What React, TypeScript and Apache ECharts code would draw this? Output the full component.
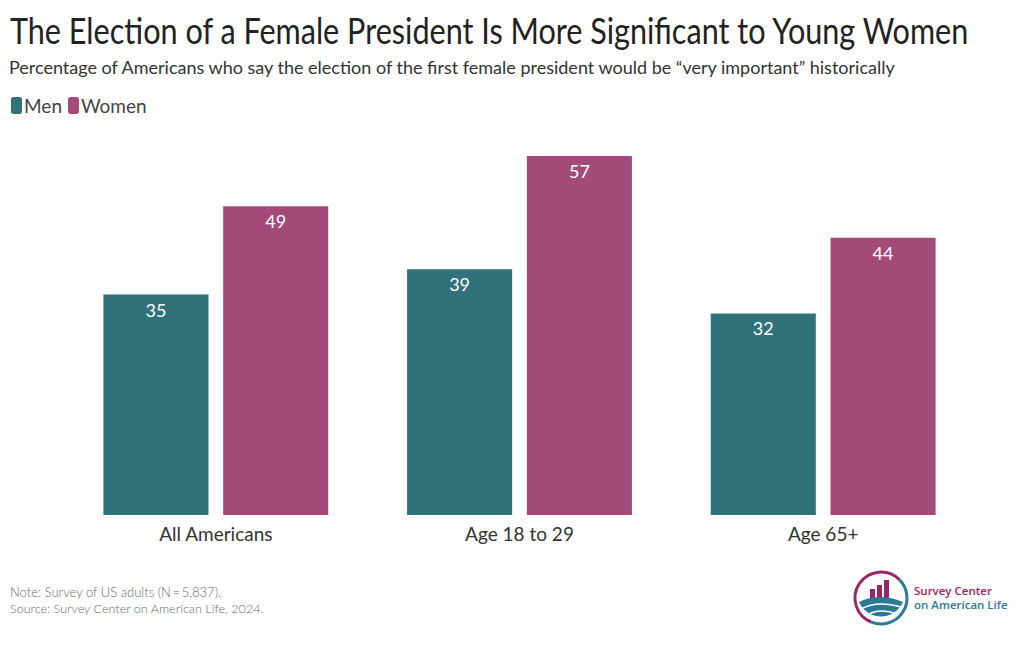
import React, { useEffect, useRef } from "react";
import * as echarts from "echarts";

const categories = ["All Americans", "Age 18 to 29", "Age 65+"];
const menValues = [35, 39, 32];
const womenValues = [49, 57, 44];
const seriesNames = ["Men", "Women"];

const MEN_COLOR = "#30727a";
const WOMEN_COLOR = "#a34a78";
const LOGO_TEAL = "#2a7a95";
const LOGO_MAG = "#9b2466";
const FONT = "Lato";

echarts.graphic.registerShape(
  "logoHill",
  echarts.graphic.extendPath("M -22 2 Q -2 -8 22 2 A 24 24 0 0 1 -22 2 Z", {}) as any
);

export default function App() {
  const ref = useRef<HTMLDivElement>(null);
  useEffect(() => {
    document.body.style.margin = "0";
    const chart = echarts.init(ref.current!, null, { renderer: "svg" });
    chart.setOption({
      animation: false,
      backgroundColor: "#ffffff",
      title: [
        {
          text: "Percentage of Americans who say the election of the first female president would be \u201cvery important\u201d historically",
          left: 4,
          top: 53,
          textStyle: { fontFamily: FONT, fontSize: 18, fontWeight: "normal", color: "#333333" },
        },
      ],
      legend: {
        left: 6,
        top: 91,
        itemWidth: 11,
        itemHeight: 17,
        itemGap: 6,
        icon: "roundRect",
        textStyle: { fontFamily: FONT, fontSize: 19, color: "#444444", padding: [0, 0, 0, -3] },
        data: seriesNames,
      },
      grid: { left: 64, right: 45, top: 137, bottom: 135 },
      xAxis: {
        type: "category",
        data: categories,
        axisLine: { show: false },
        axisTick: { show: false },
        axisLabel: { fontFamily: FONT, fontSize: 19, color: "#333333", margin: 9 },
      },
      yAxis: {
        type: "value",
        min: 0,
        max: 60,
        show: false,
        splitLine: { show: false },
      },
      series: [
        {
          name: seriesNames[0],
          type: "bar",
          data: menValues,
          barWidth: "34.6%",
          barGap: "14%",
          itemStyle: { color: MEN_COLOR },
          label: {
            show: true,
            position: "insideTop",
            distance: 6,
            color: "#ffffff",
            fontFamily: FONT,
            fontSize: 18,
          },
        },
        {
          name: seriesNames[1],
          type: "bar",
          data: womenValues,
          barWidth: "34.6%",
          itemStyle: { color: WOMEN_COLOR },
          label: {
            show: true,
            position: "insideTop",
            distance: 6,
            color: "#ffffff",
            fontFamily: FONT,
            fontSize: 18,
          },
        },
      ],
      graphic: [
        {
          type: "text",
          x: 10,
          y: 30,
          scaleX: 0.85,
          style: {
            text: "The Election of a Female President Is More Significant to Young Women",
            fontFamily: FONT,
            fontSize: 36,
            fontWeight: "normal",
            fill: "#222222",
            verticalAlign: "middle",
          },
        },
        {
          type: "text",
          left: 10,
          top: 585,
          style: {
            text: "Note: Survey of US adults (N\u2009=\u20095,837).",
            fontFamily: FONT,
            fontSize: 13,
            fontWeight: 300,
            fill: "#6a6a6a",
          },
        },
        {
          type: "text",
          left: 10,
          top: 602,
          style: {
            text: "Source: Survey Center on American Life, 2024.",
            fontFamily: FONT,
            fontSize: 12.6,
            fontWeight: 300,
            fill: "#6a6a6a",
          },
        },
        {
          type: "group",
          x: 881,
          y: 598,
          children: [
            { type: "arc", shape: { cx: 0, cy: 0, r: 26, startAngle: Math.PI * 0.62, endAngle: Math.PI * 1.75 }, style: { stroke: LOGO_MAG, lineWidth: 3, fill: "none" } },
            { type: "arc", shape: { cx: 0, cy: 0, r: 26, startAngle: Math.PI * 1.75, endAngle: Math.PI * 2.62 }, style: { stroke: LOGO_TEAL, lineWidth: 3, fill: "none" } },
            { type: "rect", shape: { x: -11, y: -9, width: 5, height: 9 }, style: { fill: LOGO_MAG } },
            { type: "rect", shape: { x: -4, y: -13, width: 5, height: 13 }, style: { fill: LOGO_MAG } },
            { type: "rect", shape: { x: 3, y: -18, width: 5, height: 18 }, style: { fill: LOGO_MAG } },
            { type: "logoHill", x: 0, y: 2, style: { fill: LOGO_TEAL } },
            { type: "bezierCurve", shape: { x1: -20, y1: 11, x2: 20, y2: 9, cpx1: -4, cpy1: 2 }, style: { stroke: "#ffffff", lineWidth: 1.5, fill: "none" } },
            { type: "bezierCurve", shape: { x1: -16, y1: 18, x2: 16, y2: 16, cpx1: -2, cpy1: 9 }, style: { stroke: "#ffffff", lineWidth: 1.5, fill: "none" } },
            { type: "text", x: 33, y: -14, style: { text: "Survey Center", fontFamily: "Open Sans", fontSize: 11.5, fontWeight: 600, fill: LOGO_MAG } },
            { type: "text", x: 33, y: 0, style: { text: "on American Life", fontFamily: "Open Sans", fontSize: 11.5, fontWeight: 600, fill: LOGO_TEAL } },
          ],
        },
      ],
    });
    return () => chart.dispose();
  }, []);
  return <div ref={ref} style={{ width: 1020, height: 650 }} />;
}
